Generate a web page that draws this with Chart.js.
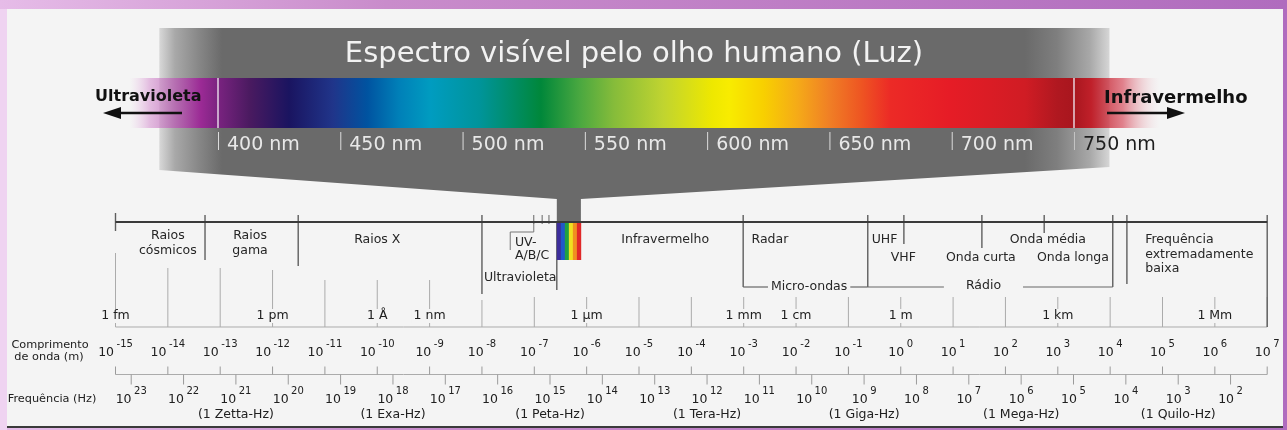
<!DOCTYPE html>
<html>
<head>
<meta charset="utf-8">
<script src="https://cdn.jsdelivr.net/npm/chart.js@4.4.0/dist/chart.umd.min.js"></script>
<style>
  html, body { margin: 0; padding: 0; background: #f4f4f4; }
  canvas { display: block; }
</style>
</head>
<body>
<canvas id="spectrumChart" width="1287" height="430"></canvas>
<script>
// Wavelength decades, log10 of metres
const waveExponents = [-15, -14, -13, -12, -11, -10, -9, -8, -7, -6, -5, -4, -3, -2, -1, 0, 1, 2, 3, 4, 5, 6, 7];
// Frequency decades, log10 of Hz
const freqExponents = [23, 22, 21, 20, 19, 18, 17, 16, 15, 14, 13, 12, 11, 10, 9, 8, 7, 6, 5, 4, 3, 2];
// where 10^n Hz sits on the wavelength axis (as drawn in the reference): log(lambda) = FREQ_ZERO - n
const FREQ_ZERO = 8.3;

const unitLabels = ['1 fm', '1 pm', '1 Å', '1 nm', '1 µm', '1 mm', '1 cm', '1 m', '1 km', '1 Mm'];
const unitExponents = [-15, -12, -10, -9, -6, -3, -2, 0, 3, 6];

const freqNames = ['(1 Zetta-Hz)', '(1 Exa-Hz)', '(1 Peta-Hz)', '(1 Tera-Hz)', '(1 Giga-Hz)', '(1 Mega-Hz)', '(1 Quilo-Hz)'];
const freqNameExponents = [21, 18, 15, 12, 9, 6, 3];

// Visible spectrum (nm)
const nmTicks = [400, 450, 500, 550, 600, 650, 700, 750];
const spectrumNm = [364, 372, 393, 400, 413, 429, 447, 461, 474, 487, 507, 532, 548, 562, 582, 602, 609, 623, 637, 650, 663, 675, 699, 730, 743, 750, 757, 770, 785];
const spectrumColors = ['rgba(235,190,230,0)', 'rgba(215,150,210,0.6)', '#9b2a95', '#7a2380', '#4a1a60', '#1a1460', '#20358a', '#0053a0',
  '#0080b8', '#009cc0', '#00949a', '#00873a', '#4aa840', '#86bc3a', '#c0d430', '#eee800', '#f8ec00', '#f8d000', '#f5aa18',
  '#f07f25', '#ee5522', '#ec2a26', '#e61c26', '#d01c24', '#b01820', '#a8161e', '#c0202a', 'rgba(216,80,96,0.7)', 'rgba(240,200,210,0)'];

// Band boundaries on the wavelength axis (log10 m)
const bandEdges = [-15, -13.29, -11.51, -8.0, -6.57, -3.01, -0.63, 0.06, 1.55, 2.74, 4.05, 4.32, 7];
const uvSubEdges = [-7.01, -6.85, -6.72];
const uvBracket = -7.46;
const visibleBand = [-6.57, -6.11];
const rainbowColors = ['#3c2d9a', '#2058c8', '#20a040', '#f0e020', '#f09020', '#e02828'];

const bandNames = [['Raios', 'cósmicos'], ['Raios', 'gama'], ['Raios X'], ['UV-', 'A/B/C'], ['Ultravioleta'], ['Infravermelho'],
  ['Radar'], ['Micro-ondas'], ['UHF'], ['VHF'], ['Onda curta'], ['Onda média'], ['Onda longa'], ['Rádio'],
  ['Frequência', 'extremadamente', 'baixa']];
const bandCenters = [-14.0, -12.43, -10.0, -7.37, -7.27, -4.5, -2.5, -1.75, -0.31, 0.05, 1.53, 2.81, 3.29, 1.58, 4.67];

// layout
const W = 1287, H = 430;
const PX_PER_DECADE = 52.35, DECADE_START_X = 115.5;
const PX_PER_NM = 2.4457, NM400_X = 218;
const FONT = '"DejaVu Sans", "Noto Sans", sans-serif';

function text(ctx, s, x, y, size, color, align, weight) {
  ctx.font = (weight || '') + ' ' + size + 'px ' + FONT;
  ctx.fillStyle = color;
  ctx.textAlign = align || 'center';
  ctx.textBaseline = 'middle';
  ctx.fillText(s, x, y);
}

function pow10(ctx, x, y, exp, color) {
  ctx.font = '12.5px ' + FONT;
  const w1 = ctx.measureText('10').width;
  ctx.font = '10px ' + FONT;
  const w2 = ctx.measureText(exp).width;
  const gap = 2.5;
  const left = x - (w1 + gap + w2) / 2;
  text(ctx, '10', left, y, 12.5, color, 'left');
  text(ctx, exp, left + w1 + gap, y - 9, 10, color, 'left');
}

function line(ctx, x1, y1, x2, y2, color, width) {
  ctx.beginPath();
  ctx.moveTo(x1, y1);
  ctx.lineTo(x2, y2);
  ctx.strokeStyle = color;
  ctx.lineWidth = width;
  ctx.stroke();
}

const spectrumPlugin = {
  id: 'spectrum',
  beforeDatasetsDraw(chart) {
    const ctx = chart.ctx;
    const X = v => chart.scales.x.getPixelForValue(v);
    const N = v => chart.scales.xnm.getPixelForValue(v);
    const Y = v => chart.scales.y.getPixelForValue(v);
    ctx.save();

    // frame
    const fg = ctx.createLinearGradient(0, 0, W, 0);
    fg.addColorStop(0, '#e6bce8');
    fg.addColorStop(0.3, '#c98ccb');
    fg.addColorStop(1, '#b06cbe');
    ctx.fillStyle = fg;
    ctx.fillRect(0, 0, W, H);
    ctx.fillStyle = '#efd3f1';
    ctx.fillRect(0, 9, 7, H - 9);
    ctx.fillStyle = '#f4f4f4';
    ctx.fillRect(7, 9, W - 11, 418);
    ctx.fillStyle = '#3a3a3a';
    ctx.fillRect(7, 426, W - 11, 2);

    // grey funnel
    const fx0 = N(376), fx1 = N(764.5);
    const sL = X(visibleBand[0]), sR = X(visibleBand[1]);
    const gg = ctx.createLinearGradient(fx0, 0, fx1, 0);
    const fr = px => (px - fx0) / (fx1 - fx0);
    gg.addColorStop(0, 'rgba(106,106,106,0.2)');
    gg.addColorStop(fr(175), 'rgba(106,106,106,0.55)');
    gg.addColorStop(fr(200), 'rgba(106,106,106,0.8)');
    gg.addColorStop(fr(222), 'rgba(106,106,106,1)');
    gg.addColorStop(fr(1025), 'rgba(106,106,106,1)');
    gg.addColorStop(fr(1057), 'rgba(106,106,106,0.85)');
    gg.addColorStop(fr(1090), 'rgba(106,106,106,0.55)');
    gg.addColorStop(1, 'rgba(106,106,106,0.22)');
    ctx.beginPath();
    ctx.moveTo(fx0, Y(28));
    ctx.lineTo(fx1, Y(28));
    ctx.lineTo(fx1, Y(167));
    ctx.lineTo(sR, Y(199));
    ctx.lineTo(sR, Y(222));
    ctx.lineTo(sL, Y(222));
    ctx.lineTo(sL, Y(199));
    ctx.lineTo(fx0, Y(170));
    ctx.closePath();
    ctx.fillStyle = gg;
    ctx.fill();

    text(ctx, 'Espectro visível pelo olho humano (Luz)', 634, Y(54), 29, '#f2f2f2');

    // spectrum bar
    const lo = spectrumNm[0], hi = spectrumNm[spectrumNm.length - 1];
    const sg = ctx.createLinearGradient(N(lo), 0, N(hi), 0);
    spectrumNm.forEach((nm, i) => sg.addColorStop((nm - lo) / (hi - lo), spectrumColors[i]));
    ctx.fillStyle = sg;
    ctx.fillRect(N(lo), Y(78), N(hi) - N(lo), Y(128) - Y(78));
    line(ctx, N(400), Y(78), N(400), Y(128), 'rgba(240,230,240,0.9)', 1.5);
    line(ctx, N(750), Y(78), N(750), Y(128), 'rgba(240,230,240,0.9)', 1.5);

    nmTicks.forEach(v => {
      const last = v === nmTicks[nmTicks.length - 1];
      line(ctx, N(v) + 0.5, Y(132), N(v) + 0.5, Y(150), last ? '#c4c4c4' : '#dcdcdc', 1);
      ctx.font = '19px ' + FONT;
      ctx.textAlign = 'left';
      ctx.textBaseline = 'alphabetic';
      ctx.fillStyle = last ? '#1e1e1e' : '#e8e8e8';
      ctx.fillText(v + ' nm', N(v) + 9, Y(150));
    });

    // side labels + arrows
    ctx.font = 'bold 16px ' + FONT;
    ctx.fillStyle = '#111';
    ctx.textAlign = 'left';
    ctx.textBaseline = 'alphabetic';
    ctx.fillText('Ultravioleta', 95, Y(101));
    ctx.font = 'bold 18px ' + FONT;
    ctx.fillText('Infravermelho', 1104, Y(103));
    line(ctx, 115, Y(113), 182, Y(113), '#111', 2.5);
    line(ctx, 1107, Y(113), 1172, Y(113), '#111', 2.5);
    ctx.fillStyle = '#111';
    ctx.beginPath();
    ctx.moveTo(103, Y(113)); ctx.lineTo(121, Y(107)); ctx.lineTo(121, Y(119)); ctx.closePath(); ctx.fill();
    ctx.beginPath();
    ctx.moveTo(1185, Y(113)); ctx.lineTo(1167, Y(107)); ctx.lineTo(1167, Y(119)); ctx.closePath(); ctx.fill();

    // ---- electromagnetic scale ----
    const gridTop = e => e === -15 ? 253 : e <= -13 ? 268 : e === -12 ? 270 : e <= -9 ? 280 : e === -8 ? 300 : 297;
    waveExponents.forEach(e => line(ctx, X(e), Y(gridTop(e)), X(e), Y(327), '#ababab', 1));
    line(ctx, X(-15), Y(327), X(7), Y(327), '#ababab', 1);
    line(ctx, X(-15), Y(374.5), X(7), Y(374.5), '#ababab', 1);

    // band edges
    const edgeSpans = [[213, 231], [215, 260], [215, 266], [215, 294], [222, 290], [215, 287], [215, 287],
      [215, 244], [215, 248], [215, 233], [215, 287], [215, 284], [215, 327]];
    bandEdges.forEach((e, i) => line(ctx, X(e), Y(edgeSpans[i][0]), X(e), Y(edgeSpans[i][1]), '#5e5e5e', 1.4));
    uvSubEdges.forEach(e => line(ctx, X(e), Y(215), X(e), Y(224), '#666', 1));
    ctx.beginPath();
    ctx.moveTo(X(uvSubEdges[0]), Y(222));
    ctx.lineTo(X(uvSubEdges[0]), Y(232));
    ctx.lineTo(X(uvBracket), Y(232));
    ctx.lineTo(X(uvBracket), Y(250));
    ctx.strokeStyle = '#777';
    ctx.lineWidth = 1;
    ctx.stroke();

    // main axis line
    line(ctx, X(-15), Y(222), X(7), Y(222), '#3a3a3a', 2);

    // rainbow box under the visible band
    const bw = (sR - sL) / rainbowColors.length;
    rainbowColors.forEach((c, i) => {
      ctx.fillStyle = c;
      ctx.fillRect(sL + i * bw, Y(223), bw + 0.3, Y(260) - Y(223));
    });

    // brackets (Micro-ondas, Rádio)
    ctx.font = '12.5px ' + FONT;
    const bracket = (a, b, center, label, pad) => {
      const hw = ctx.measureText(label).width / 2 + pad;
      line(ctx, X(a), Y(287), X(center) - hw, Y(287), '#666', 1.2);
      line(ctx, X(center) + hw, Y(287), X(b), Y(287), '#666', 1.2);
    };
    bracket(bandEdges[5], bandEdges[6], bandCenters[7], bandNames[7][0], 3);
    bracket(bandEdges[6], bandEdges[10], bandCenters[13], bandNames[13][0], 22);

    // band labels
    const rows = [[236, 251], [236, 251], [240], [243, 256], [278], [240], [240], [287], [240], [258], [258], [240], [258], [286], [240, 254.5, 269]];
    const leftAligned = [3, 14];
    bandNames.forEach((lines, i) => {
      lines.forEach((s, j) => text(ctx, s, X(bandCenters[i]), Y(rows[i][j]), 12.5, '#262626', leftAligned.includes(i) ? 'left' : 'center'));
    });

    // unit labels with background
    unitLabels.forEach((s, i) => {
      ctx.font = '12.5px ' + FONT;
      const w = ctx.measureText(s).width;
      ctx.fillStyle = '#f4f4f4';
      ctx.fillRect(X(unitExponents[i]) - w / 2 - 2, Y(309), w + 4, 14);
      text(ctx, s, X(unitExponents[i]), Y(316), 12.5, '#202020');
    });

    // decade labels
    waveExponents.forEach(e => pow10(ctx, X(e), Y(353), String(e), '#202020'));
    freqExponents.forEach(n => pow10(ctx, X(FREQ_ZERO - n), Y(400), String(n), '#202020'));
    freqNames.forEach((s, i) => text(ctx, s, X(FREQ_ZERO - freqNameExponents[i]), Y(415), 12.5, '#202020'));

    // axis titles
    text(ctx, 'Comprimento', 50, Y(345), 11.3, '#202020');
    text(ctx, 'de onda (m)', 49, Y(357), 11.3, '#202020');
    text(ctx, 'Frequência (Hz)', 52, Y(399), 11.3, '#202020');

    ctx.restore();
  }
};

new Chart(document.getElementById('spectrumChart'), {
  type: 'scatter',
  data: {
    datasets: [
      {
        label: 'Comprimento de onda (m)',
        data: waveExponents.map(e => ({ x: e, y: 370.5 })),
        pointStyle: 'line',
        pointRotation: 90,
        pointRadius: 4,
        pointBorderColor: '#9a9a9a',
        pointBorderWidth: 1
      },
      {
        label: 'Frequência (Hz)',
        data: freqExponents.map(n => ({ x: FREQ_ZERO - n, y: 379.5 })),
        pointStyle: 'line',
        pointRotation: 90,
        pointRadius: 5,
        pointBorderColor: '#9a9a9a',
        pointBorderWidth: 1
      }
    ]
  },
  options: {
    responsive: false,
    animation: false,
    devicePixelRatio: 1,
    events: [],
    layout: { padding: 0, autoPadding: false },
    plugins: { legend: { display: false }, tooltip: { enabled: false } },
    scales: {
      x: { type: 'linear', display: false, min: -15 - DECADE_START_X / PX_PER_DECADE, max: -15 + (W - DECADE_START_X) / PX_PER_DECADE },
      xnm: { type: 'linear', axis: 'x', display: false, min: 400 - NM400_X / PX_PER_NM, max: 400 + (W - NM400_X) / PX_PER_NM },
      y: { type: 'linear', display: false, min: 0, max: H, reverse: true }
    }
  },
  plugins: [spectrumPlugin]
});
</script>
</body>
</html>
